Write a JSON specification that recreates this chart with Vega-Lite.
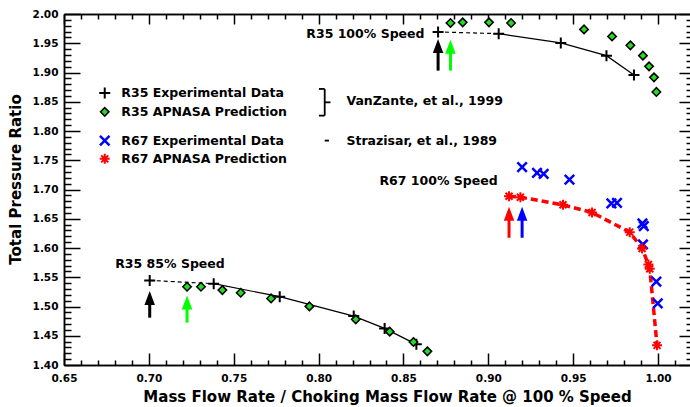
{
  "$schema": "https://vega.github.io/schema/vega-lite/v6.json",
  "width": 628,
  "height": 351,
  "autosize": {"type": "none"},
  "padding": {"left": 64, "top": 14, "right": 0, "bottom": 42},
  "background": "white",
  "config": {"view": {"stroke": null}, "legend": {"disable": true}, "axis": {"grid": false, "domainColor": "black", "domainWidth": 1.5, "tickColor": "black", "tickWidth": 1.5, "labelFlush": false, "labelOverlap": false, "labelBound": false}},
  "datasets": {
    "pts": [
      {"series": "R35 Exp", "curve": "100", "x": 0.8704, "y": 1.9693},
      {"series": "R35 Exp", "curve": "100", "x": 0.9061, "y": 1.9664},
      {"series": "R35 Exp", "curve": "100", "x": 0.9427, "y": 1.9505},
      {"series": "R35 Exp", "curve": "100", "x": 0.9696, "y": 1.9288},
      {"series": "R35 Exp", "curve": "100", "x": 0.9858, "y": 1.8958},
      {"series": "R35 Exp", "curve": "85", "x": 0.7005, "y": 1.5446},
      {"series": "R35 Exp", "curve": "85", "x": 0.7382, "y": 1.539},
      {"series": "R35 Exp", "curve": "85", "x": 0.7771, "y": 1.5168},
      {"series": "R35 Exp", "curve": "85", "x": 0.8207, "y": 1.4836},
      {"series": "R35 Exp", "curve": "85", "x": 0.8389, "y": 1.4626},
      {"series": "R35 Exp", "curve": "85", "x": 0.8576, "y": 1.4353},
      {"series": "R35 APNASA", "curve": "100", "x": 0.8777, "y": 1.9846},
      {"series": "R35 APNASA", "curve": "100", "x": 0.8849, "y": 1.9857},
      {"series": "R35 APNASA", "curve": "100", "x": 0.9004, "y": 1.9857},
      {"series": "R35 APNASA", "curve": "100", "x": 0.9134, "y": 1.9846},
      {"series": "R35 APNASA", "curve": "100", "x": 0.9564, "y": 1.9737},
      {"series": "R35 APNASA", "curve": "100", "x": 0.9729, "y": 1.9617},
      {"series": "R35 APNASA", "curve": "100", "x": 0.9837, "y": 1.9464},
      {"series": "R35 APNASA", "curve": "100", "x": 0.9911, "y": 1.9288},
      {"series": "R35 APNASA", "curve": "100", "x": 0.9947, "y": 1.9105},
      {"series": "R35 APNASA", "curve": "100", "x": 0.9976, "y": 1.8917},
      {"series": "R35 APNASA", "curve": "100", "x": 0.999, "y": 1.8668},
      {"series": "R35 APNASA", "curve": "85", "x": 0.7225, "y": 1.5338},
      {"series": "R35 APNASA", "curve": "85", "x": 0.7307, "y": 1.5338},
      {"series": "R35 APNASA", "curve": "85", "x": 0.7433, "y": 1.528},
      {"series": "R35 APNASA", "curve": "85", "x": 0.7541, "y": 1.5236},
      {"series": "R35 APNASA", "curve": "85", "x": 0.772, "y": 1.5138},
      {"series": "R35 APNASA", "curve": "85", "x": 0.7946, "y": 1.5002},
      {"series": "R35 APNASA", "curve": "85", "x": 0.8219, "y": 1.478},
      {"series": "R35 APNASA", "curve": "85", "x": 0.8419, "y": 1.457},
      {"series": "R35 APNASA", "curve": "85", "x": 0.8559, "y": 1.4392},
      {"series": "R35 APNASA", "curve": "85", "x": 0.8641, "y": 1.4233},
      {"series": "R67 Exp", "curve": "100", "x": 0.9199, "y": 1.7381},
      {"series": "R67 Exp", "curve": "100", "x": 0.9287, "y": 1.7285},
      {"series": "R67 Exp", "curve": "100", "x": 0.9326, "y": 1.7268},
      {"series": "R67 Exp", "curve": "100", "x": 0.9478, "y": 1.717},
      {"series": "R67 Exp", "curve": "100", "x": 0.9725, "y": 1.6761},
      {"series": "R67 Exp", "curve": "100", "x": 0.9758, "y": 1.6773},
      {"series": "R67 Exp", "curve": "100", "x": 0.9908, "y": 1.6419},
      {"series": "R67 Exp", "curve": "100", "x": 0.9916, "y": 1.6373},
      {"series": "R67 Exp", "curve": "100", "x": 0.9911, "y": 1.606},
      {"series": "R67 Exp", "curve": "100", "x": 0.999, "y": 1.5424},
      {"series": "R67 Exp", "curve": "100", "x": 0.9998, "y": 1.5053},
      {"series": "R67 APNASA", "curve": "100", "x": 0.9122, "y": 1.6885},
      {"series": "R67 APNASA", "curve": "100", "x": 0.9189, "y": 1.6868},
      {"series": "R67 APNASA", "curve": "100", "x": 0.944, "y": 1.6738},
      {"series": "R67 APNASA", "curve": "100", "x": 0.9611, "y": 1.6607},
      {"series": "R67 APNASA", "curve": "100", "x": 0.9833, "y": 1.6271},
      {"series": "R67 APNASA", "curve": "100", "x": 0.9906, "y": 1.5992},
      {"series": "R67 APNASA", "curve": "100", "x": 0.9943, "y": 1.5719},
      {"series": "R67 APNASA", "curve": "100", "x": 0.9951, "y": 1.5646},
      {"series": "R67 APNASA", "curve": "100", "x": 0.9994, "y": 1.4336}
    ],
    "key": [
      {"series": "R35 Exp", "x": 0.674, "y": 1.8651},
      {"series": "R35 APNASA", "x": 0.674, "y": 1.8327},
      {"series": "R67 Exp", "x": 0.674, "y": 1.7836},
      {"series": "R67 APNASA", "x": 0.674, "y": 1.7524}
    ],
    "arrows": [
      {"series": "R35 Exp", "x": 0.8704, "tip": 1.9573, "base": 1.9353, "tail": 1.9032},
      {"series": "R35 APNASA", "x": 0.8777, "tip": 1.9561, "base": 1.9341, "tail": 1.9032},
      {"series": "R67 APNASA", "x": 0.9122, "tip": 1.6704, "base": 1.6484, "tail": 1.6175},
      {"series": "R67 Exp", "x": 0.9199, "tip": 1.6704, "base": 1.6484, "tail": 1.6175},
      {"series": "R35 Exp", "x": 0.7005, "tip": 1.5263, "base": 1.5043, "tail": 1.4809},
      {"series": "R35 APNASA", "x": 0.7225, "tip": 1.519, "base": 1.497, "tail": 1.4724}
    ],
    "bracket": [
      {"x": 0.8036, "x2": 0.8036, "y": 1.8719, "y2": 1.8263},
      {"x": 0.8002, "x2": 0.8036, "y": 1.8719, "y2": 1.8719},
      {"x": 0.8002, "x2": 0.8036, "y": 1.8263, "y2": 1.8263},
      {"x": 0.8036, "x2": 0.807, "y": 1.849, "y2": 1.849},
      {"x": 0.8036, "x2": 0.8061, "y": 1.7836, "y2": 1.7836}
    ],
    "notes": [
      {"kind": "curve", "text": "R35 100% Speed", "x": 0.8624, "y": 1.965},
      {"kind": "curve", "text": "R67 100% Speed", "x": 0.9055, "y": 1.714},
      {"kind": "curve", "text": "R35 85% Speed", "x": 0.7447, "y": 1.572},
      {"kind": "legend", "text": "R35 Experimental Data", "x": 0.6838, "y": 1.8651},
      {"kind": "legend", "text": "R35 APNASA Prediction", "x": 0.6838, "y": 1.8327},
      {"kind": "legend", "text": "R67 Experimental Data", "x": 0.6838, "y": 1.7836},
      {"kind": "legend", "text": "R67 APNASA Prediction", "x": 0.6838, "y": 1.7524},
      {"kind": "cite", "text": "VanZante, et al., 1999", "x": 0.8164, "y": 1.8508},
      {"kind": "cite", "text": "Strazisar, et al., 1989", "x": 0.8164, "y": 1.7836}
    ]
  },
  "layer": [
    {
      "data": {"name": "key"},
      "mark": {"type": "point", "opacity": 0},
      "encoding": {
        "x": {"field": "x", "type": "quantitative", "scale": {"domain": [0.65, 1.02], "nice": false, "zero": false},
          "axis": {"orient": "bottom",
            "values": [0.65, 0.7, 0.75, 0.8, 0.85, 0.9, 0.95, 1.0],
            "title": "Mass Flow Rate / Choking Mass Flow Rate @ 100 % Speed",
            "format": ".2f",
            "tickSize": -12, "tickColor": "black",
            "labelPadding": 20,
            "labelFont": "DejaVu Sans", "labelFontWeight": "bold", "labelFontSize": 10.5, "labelColor": "black",
            "titleFont": "DejaVu Sans", "titleFontWeight": "bold", "titleFontSize": 15, "titleColor": "black",
            "titleX": 323, "titleY": 36, "titleBaseline": "alphabetic", "titleAlign": "center"}},
        "y": {"field": "y", "type": "quantitative", "scale": {"domain": [1.4, 2.0], "nice": false, "zero": false},
          "axis": {"orient": "left",
            "values": [1.4, 1.45, 1.5, 1.55, 1.6, 1.65, 1.7, 1.75, 1.8, 1.85, 1.9, 1.95, 2.0],
            "title": "Total Pressure Ratio",
            "format": ".2f",
            "tickSize": -16, "tickColor": "black",
            "labelPadding": 22,
            "labelFont": "DejaVu Sans", "labelFontWeight": "bold", "labelFontSize": 10.5, "labelColor": "black",
            "titleFont": "DejaVu Sans", "titleFontWeight": "bold", "titleFontSize": 15, "titleColor": "black",
            "titleX": -44, "titleY": 165, "titleAngle": 270, "titleBaseline": "alphabetic", "titleAlign": "center"}}
      }
    },
    {
      "data": {"name": "key"},
      "mark": {"type": "point", "opacity": 0},
      "encoding": {
        "x": {"field": "x", "type": "quantitative", "scale": {"domain": [0.65, 1.02], "nice": false, "zero": false},
          "axis": {"orient": "bottom",
            "values": [0.66,0.67,0.68,0.69,0.71,0.72,0.73,0.74,0.76,0.77,0.78,0.79,0.81,0.82,0.83,0.84,0.86,0.87,0.88,0.89,0.91,0.92,0.93,0.94,0.96,0.97,0.98,0.99,1.01,1.02],
            "title": null, "labels": false, "tickSize": -5, "tickColor": "black"}},
        "y": {"field": "y", "type": "quantitative", "scale": {"domain": [1.4, 2.0], "nice": false, "zero": false},
          "axis": {"orient": "left",
            "values": [1.41,1.42,1.43,1.44,1.46,1.47,1.48,1.49,1.51,1.52,1.53,1.54,1.56,1.57,1.58,1.59,1.61,1.62,1.63,1.64,1.66,1.67,1.68,1.69,1.71,1.72,1.73,1.74,1.76,1.77,1.78,1.79,1.81,1.82,1.83,1.84,1.86,1.87,1.88,1.89,1.91,1.92,1.93,1.94,1.96,1.97,1.98,1.99],
            "title": null, "labels": false, "tickSize": -7, "tickColor": "black"}}
      }
    },
    {
      "data": {"name": "key"},
      "mark": {"type": "point", "opacity": 0},
      "encoding": {
        "x": {"field": "x", "type": "quantitative", "scale": {"domain": [0.65, 1.02], "nice": false, "zero": false},
          "axis": {"orient": "top",
            "values": [0.65, 0.7, 0.75, 0.8, 0.85, 0.9, 0.95, 1.0],
            "title": null, "labels": false, "tickSize": -10, "tickColor": "black"}},
        "y": {"field": "y", "type": "quantitative", "scale": {"domain": [1.4, 2.0], "nice": false, "zero": false},
          "axis": {"orient": "right",
            "values": [1.4, 1.45, 1.5, 1.55, 1.6, 1.65, 1.7, 1.75, 1.8, 1.85, 1.9, 1.95, 2.0],
            "title": null, "labels": false, "tickSize": -13, "tickColor": "black"}}
      }
    },
    {
      "data": {"name": "key"},
      "mark": {"type": "point", "opacity": 0},
      "encoding": {
        "x": {"field": "x", "type": "quantitative", "scale": {"domain": [0.65, 1.02], "nice": false, "zero": false},
          "axis": {"orient": "top",
            "values": [0.66,0.67,0.68,0.69,0.71,0.72,0.73,0.74,0.76,0.77,0.78,0.79,0.81,0.82,0.83,0.84,0.86,0.87,0.88,0.89,0.91,0.92,0.93,0.94,0.96,0.97,0.98,0.99,1.01,1.02],
            "title": null, "labels": false, "tickSize": -5, "tickColor": "black"}},
        "y": {"field": "y", "type": "quantitative", "scale": {"domain": [1.4, 2.0], "nice": false, "zero": false},
          "axis": {"orient": "right",
            "values": [1.41,1.42,1.43,1.44,1.46,1.47,1.48,1.49,1.51,1.52,1.53,1.54,1.56,1.57,1.58,1.59,1.61,1.62,1.63,1.64,1.66,1.67,1.68,1.69,1.71,1.72,1.73,1.74,1.76,1.77,1.78,1.79,1.81,1.82,1.83,1.84,1.86,1.87,1.88,1.89,1.91,1.92,1.93,1.94,1.96,1.97,1.98,1.99],
            "title": null, "labels": false, "tickSize": -6, "tickColor": "black"}}
      }
    },
    {
      "data": {"name": "pts"},
      "transform": [
        {"filter": "datum.series == 'R35 Exp'"},
        {"window": [{"op": "row_number", "as": "rank"}], "sort": [{"field": "x"}], "groupby": ["curve"]},
        {"filter": "datum.rank <= 2"}
      ],
      "mark": {"type": "line", "color": "black", "strokeWidth": 1.2, "strokeDash": [4, 3]},
      "encoding": {
        "x": {"field": "x", "type": "quantitative", "scale": {"domain": [0.65, 1.02], "nice": false, "zero": false}, "axis": null},
        "y": {"field": "y", "type": "quantitative", "scale": {"domain": [1.4, 2.0], "nice": false, "zero": false}, "axis": null},
        "detail": {"field": "curve"}
      }
    },
    {
      "data": {"name": "pts"},
      "transform": [
        {"filter": "datum.series == 'R35 Exp'"},
        {"window": [{"op": "row_number", "as": "rank"}], "sort": [{"field": "x"}], "groupby": ["curve"]},
        {"filter": "datum.rank >= 2"}
      ],
      "mark": {"type": "line", "color": "black", "strokeWidth": 1.2},
      "encoding": {
        "x": {"field": "x", "type": "quantitative", "scale": {"domain": [0.65, 1.02], "nice": false, "zero": false}, "axis": null},
        "y": {"field": "y", "type": "quantitative", "scale": {"domain": [1.4, 2.0], "nice": false, "zero": false}, "axis": null},
        "detail": {"field": "curve"}
      }
    },
    {
      "data": {"name": "pts"},
      "transform": [{"filter": "datum.series == 'R67 APNASA'"}],
      "mark": {"type": "line", "color": "#ff0000", "strokeWidth": 3.5, "strokeDash": [7, 4]},
      "encoding": {
        "x": {"field": "x", "type": "quantitative", "scale": {"domain": [0.65, 1.02], "nice": false, "zero": false}, "axis": null},
        "y": {"field": "y", "type": "quantitative", "scale": {"domain": [1.4, 2.0], "nice": false, "zero": false}, "axis": null}
      }
    },
    {
      "data": {"name": "pts"},
      "mark": {"type": "point", "opacity": 1},
      "encoding": {
        "x": {"field": "x", "type": "quantitative", "scale": {"domain": [0.65, 1.02], "nice": false, "zero": false}, "axis": null},
        "y": {"field": "y", "type": "quantitative", "scale": {"domain": [1.4, 2.0], "nice": false, "zero": false}, "axis": null},
        "shape": {"field": "series", "type": "nominal", "scale": {"domain": ["R35 Exp", "R35 APNASA", "R67 Exp", "R67 APNASA"], "range": ["M-1,0H1M0,-1V1", "diamond", "M-1,-1L1,1M-1,1L1,-1", "M-1,0H1M0,-1V1M-0.7,-0.7L0.7,0.7M-0.7,0.7L0.7,-0.7"]}},
        "stroke": {"field": "series", "type": "nominal", "scale": {"domain": ["R35 Exp", "R35 APNASA", "R67 Exp", "R67 APNASA"], "range": ["black", "black", "#0000ff", "#ff0000"]}},
        "fill": {"field": "series", "type": "nominal", "scale": {"domain": ["R35 Exp", "R35 APNASA", "R67 Exp", "R67 APNASA"], "range": ["transparent", "#22dd22", "transparent", "transparent"]}},
        "size": {"field": "series", "type": "nominal", "scale": {"type": "ordinal", "domain": ["R35 Exp", "R35 APNASA", "R67 Exp", "R67 APNASA"], "range": [121, 72, 90, 100]}},
        "strokeWidth": {"field": "series", "type": "nominal", "scale": {"type": "ordinal", "domain": ["R35 Exp", "R35 APNASA", "R67 Exp", "R67 APNASA"], "range": [2, 1.5, 2.5, 2]}}
      }
    },
    {
      "data": {"name": "key"},
      "mark": {"type": "point", "opacity": 1},
      "encoding": {
        "x": {"field": "x", "type": "quantitative", "scale": {"domain": [0.65, 1.02], "nice": false, "zero": false}, "axis": null},
        "y": {"field": "y", "type": "quantitative", "scale": {"domain": [1.4, 2.0], "nice": false, "zero": false}, "axis": null},
        "shape": {"field": "series", "type": "nominal"},
        "stroke": {"field": "series", "type": "nominal"},
        "fill": {"field": "series", "type": "nominal"},
        "size": {"field": "series", "type": "nominal", "scale": {"type": "ordinal"}},
        "strokeWidth": {"field": "series", "type": "nominal", "scale": {"type": "ordinal"}}
      }
    },
    {
      "data": {"name": "arrows"},
      "mark": {"type": "rule", "strokeWidth": 3},
      "encoding": {
        "x": {"field": "x", "type": "quantitative", "scale": {"domain": [0.65, 1.02], "nice": false, "zero": false}, "axis": null},
        "y": {"field": "base", "type": "quantitative", "scale": {"domain": [1.4, 2.0], "nice": false, "zero": false}, "axis": null},
        "y2": {"field": "tail"},
        "color": {"field": "series", "type": "nominal", "scale": {"domain": ["R35 Exp", "R35 APNASA", "R67 Exp", "R67 APNASA"], "range": ["black", "#00ff00", "#0000ff", "#ff0000"]}}
      }
    },
    {
      "data": {"name": "arrows"},
      "mark": {"type": "point", "filled": true, "opacity": 1, "shape": "M0,0L-0.75,2L0.75,2Z", "size": 196, "strokeWidth": 0},
      "encoding": {
        "x": {"field": "x", "type": "quantitative", "scale": {"domain": [0.65, 1.02], "nice": false, "zero": false}, "axis": null},
        "y": {"field": "tip", "type": "quantitative", "scale": {"domain": [1.4, 2.0], "nice": false, "zero": false}, "axis": null},
        "color": {"field": "series", "type": "nominal"}
      }
    },
    {
      "data": {"name": "bracket"},
      "mark": {"type": "rule", "color": "black", "strokeWidth": 1.8},
      "encoding": {
        "x": {"field": "x", "type": "quantitative", "scale": {"domain": [0.65, 1.02], "nice": false, "zero": false}, "axis": null},
        "x2": {"field": "x2"},
        "y": {"field": "y", "type": "quantitative", "scale": {"domain": [1.4, 2.0], "nice": false, "zero": false}, "axis": null},
        "y2": {"field": "y2"}
      }
    },
    {
      "data": {"name": "notes"},
      "transform": [{"filter": "datum.kind == 'curve'"}],
      "mark": {"type": "text", "align": "right", "baseline": "middle", "font": "DejaVu Sans", "fontWeight": "bold", "fontSize": 12.5, "color": "black"},
      "encoding": {
        "x": {"field": "x", "type": "quantitative", "scale": {"domain": [0.65, 1.02], "nice": false, "zero": false}, "axis": null},
        "y": {"field": "y", "type": "quantitative", "scale": {"domain": [1.4, 2.0], "nice": false, "zero": false}, "axis": null},
        "text": {"field": "text"}
      }
    },
    {
      "data": {"name": "notes"},
      "transform": [{"filter": "datum.kind != 'curve'"}],
      "mark": {"type": "text", "align": "left", "baseline": "middle", "font": "DejaVu Sans", "fontWeight": "bold", "fontSize": 12.5, "color": "black"},
      "encoding": {
        "x": {"field": "x", "type": "quantitative", "scale": {"domain": [0.65, 1.02], "nice": false, "zero": false}, "axis": null},
        "y": {"field": "y", "type": "quantitative", "scale": {"domain": [1.4, 2.0], "nice": false, "zero": false}, "axis": null},
        "text": {"field": "text"}
      }
    }
  ],
  "resolve": {"axis": {"x": "independent", "y": "independent"}}
}
